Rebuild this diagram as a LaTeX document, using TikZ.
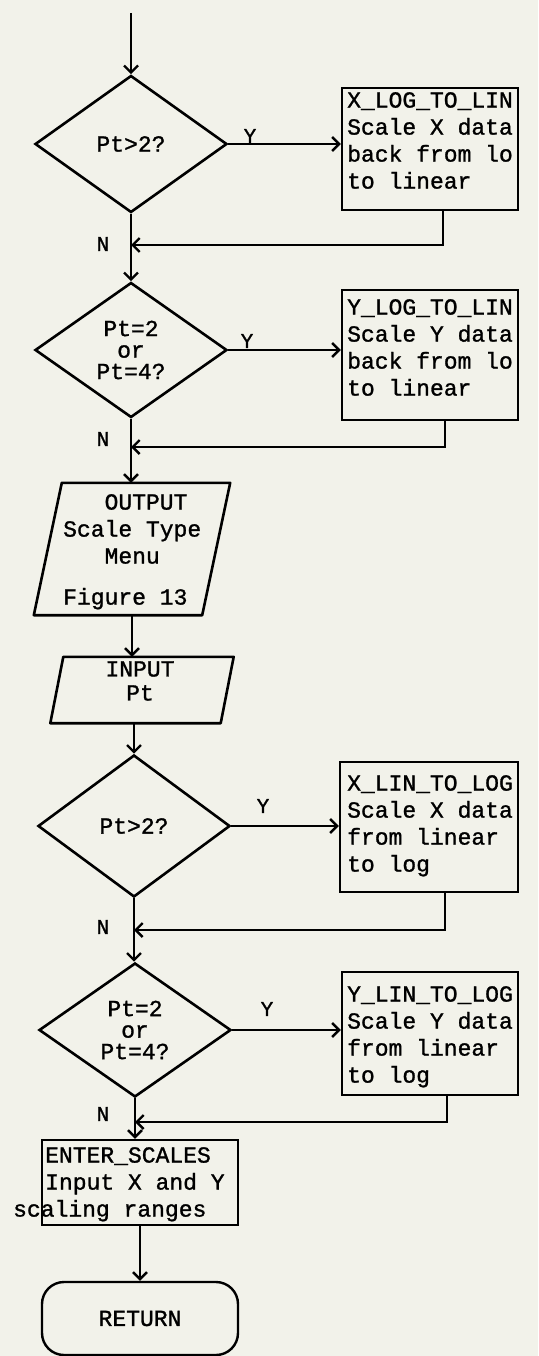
\documentclass[tikz,border=0pt]{standalone}
\usepackage{fontspec}
\newfontfamily\tw[FakeBold=1.2,AutoFakeBold=1.2]{Liberation Mono}
\usetikzlibrary{shapes.geometric,arrows.meta,calc}
\definecolor{paper}{RGB}{242,242,234}
\begin{document}
\begin{tikzpicture}[x=1pt,y=-1pt,
  every node/.style={font=\tw\bfseries\fontsize{23}{27}\selectfont, inner sep=0pt},
  shapeline/.style={line width=2.6pt, line join=round},
  dec/.style={diamond, draw, line width=2.6pt, minimum width=192pt, minimum height=#1, align=center, font=\tw\bfseries\fontsize{23}{21.5}\selectfont},
  proc/.style={draw, rectangle, line width=2.4pt},
  txt/.style={anchor=north west, align=left},
  flow/.style={line width=2.4pt, -{Straight Barb[length=7pt,width=14pt]}},
  lbl/.style={font=\tw\bfseries\fontsize{21}{21}\selectfont}
]
\fill[paper] (0,0) rectangle (538,1356);
\useasboundingbox (0,0) rectangle (538,1356);

% decisions
\node[dec=137pt] (d1) at (131,144) {Pt>2?};
\node[dec=135pt] (d2) at (131,350) {Pt=2\\or\\Pt=4?};
\node[dec=142pt] (d3) at (134,826) {Pt>2?};
\node[dec=134pt] (d4) at (135,1030) {Pt=2\\or\\Pt=4?};

% process boxes
\node[proc, minimum width=176pt, minimum height=122pt] (b1) at (430,149) {};
\node[txt] (t1) at (347,92) {X\_LOG\_TO\_LIN\\Scale X data\\back from lo\\to linear};
\node[proc, minimum width=176pt, minimum height=130pt] (b2) at (430,355) {};
\node[txt] (t2) at (347,299) {Y\_LOG\_TO\_LIN\\Scale Y data\\back from lo\\to linear};
\node[proc, minimum width=178pt, minimum height=130pt] (b3) at (429,827) {};
\node[txt] (t3) at (347,775) {X\_LIN\_TO\_LOG\\Scale X data\\from linear\\to log};
\node[proc, minimum width=176pt, minimum height=123pt] (b4) at (430,1033.5) {};
\node[txt] (t4) at (347,986) {Y\_LIN\_TO\_LOG\\Scale Y data\\from linear\\to log};

% output parallelogram
\node[minimum width=168pt, minimum height=132pt] (p1) at (132,549) {};
\draw[shapeline] ([xshift=14pt]p1.north west) -- ([xshift=14pt]p1.north east)
  -- ([xshift=-14pt]p1.south east) -- ([xshift=-14pt]p1.south west) -- cycle;
\node[txt] (p1t) at (63,494) {\phantom{Sca}OUTPUT\\Scale Type\\\phantom{Sca}Menu\\[14pt]Figure 13};

% input parallelogram
\node[minimum width=170pt, minimum height=66pt] (p2) at (142,690) {};
\draw[shapeline] ([xshift=6.5pt]p2.north west) -- ([xshift=6.5pt]p2.north east)
  -- ([xshift=-6.5pt]p2.south east) -- ([xshift=-6.5pt]p2.south west) -- cycle;
\node[align=center, font=\tw\bfseries\fontsize{23}{24}\selectfont] (p2t) at (140,681) {INPUT\\Pt};

% enter scales
\node[proc, minimum width=196pt, minimum height=85pt] (b5) at (140,1182.5) {};
\node[txt] (t5) at (45,1147) {ENTER\_SCALES\\Input X and Y\\\hspace*{-32pt}scaling ranges};

% return
\node[draw, line width=2.4pt, rounded corners=22pt, minimum width=196pt, minimum height=73pt] (ret) at (140,1318.5) {RETURN};

% junctions
\coordinate (start) at (131,13);
\coordinate (j1) at (131,245);
\coordinate (j2) at (131,447);
\coordinate (j3) at (134,930);
\coordinate (j4) at (135,1122);

% connectors
\draw[flow] (start) -- (d1.north);
\draw[flow] (d1.east) -- (d1.east -| b1.west);
\draw[flow] (d1.south) -- (d2.north);
\draw[flow] ([xshift=13pt]b1.south) |- (j1);
\draw[flow] (d2.east) -- (d2.east -| b2.west);
\draw[flow] (d2.south) -- (d2.south |- p1.north);
\draw[flow] ([xshift=15pt]b2.south) |- (j2);
\draw[flow] (p1.south) -- (p1.south |- p2.north);
\draw[flow] (d3.north |- p2.south) -- (d3.north);
\draw[flow] (d3.east) -- (d3.east -| b3.west);
\draw[flow] (d3.south) -- (d3.south |- d4.north);
\draw[flow] ([xshift=16pt]b3.south) |- (j3);
\draw[flow] (d4.east) -- (d4.east -| b4.west);
\draw[flow] (d4.south) -- (d4.south |- b5.north);
\draw[flow] ([xshift=17pt]b4.south) |- (j4);
\draw[flow] (b5.south) -- (ret.north);

% labels
\node[lbl] (y1) at (250,136) {Y};
\node[lbl] (y2) at (247,341) {Y};
\node[lbl] (y3) at (263,806) {Y};
\node[lbl] (y4) at (267,1009) {Y};
\node[lbl] (n1) at (103,244) {N};
\node[lbl] (n2) at (103,439) {N};
\node[lbl] (n3) at (103,927) {N};
\node[lbl] (n4) at (103,1114) {N};
\end{tikzpicture}
\end{document}
